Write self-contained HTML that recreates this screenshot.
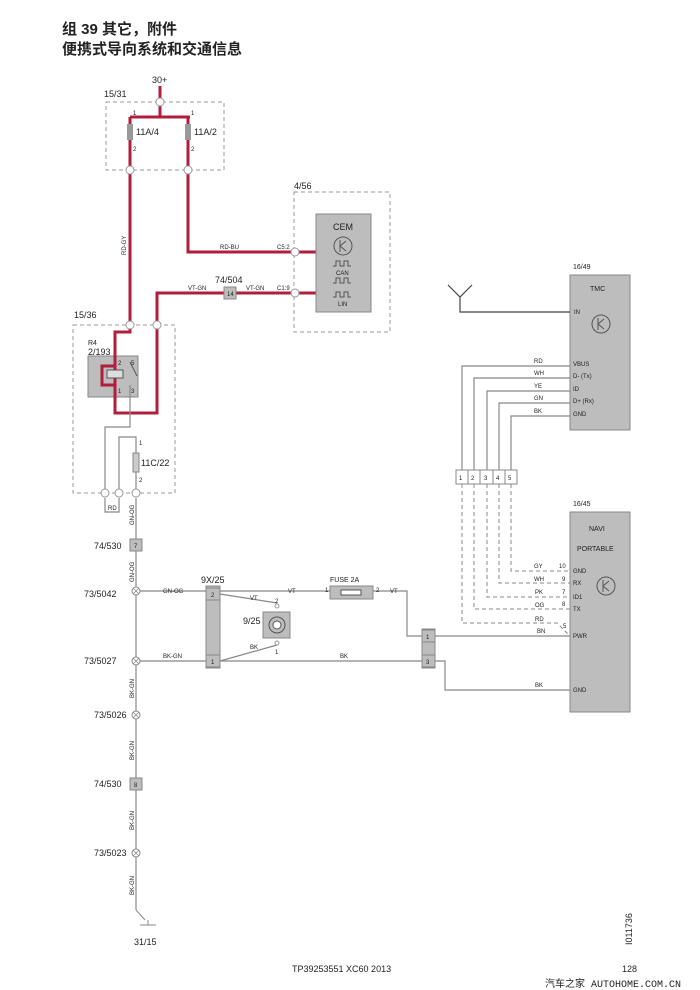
<!DOCTYPE html>
<html><head><meta charset="utf-8"><style>
body{margin:0;background:#fff}
svg{display:block}
text{font-family:"Liberation Sans",sans-serif;fill:#222}
.t{font-size:9px}.s{font-size:6px}.m{font-size:7px}
.r{stroke:#b01e3c;stroke-width:3;fill:none}
.g{stroke:#888;stroke-width:1.2;fill:none}
.d{stroke:#888;stroke-width:1;fill:none;stroke-dasharray:4 3}
.bx{stroke:#999;stroke-width:1;fill:none;stroke-dasharray:4 3}
.c{fill:#fff;stroke:#999;stroke-width:1}
.gb{fill:#bdbdbd;stroke:#888;stroke-width:1}
</style></head><body>
<svg width="700" height="990" viewBox="0 0 700 990">
<text x="62" y="34" style="font-size:15px;font-weight:bold;font-family:'Liberation Sans','Noto Sans CJK SC',sans-serif">组 39 其它，附件</text>
<text x="62" y="54" style="font-size:15px;font-weight:bold;font-family:'Liberation Sans','Noto Sans CJK SC',sans-serif">便携式导向系统和交通信息</text>

<text x="152" y="83" class="t">30+</text>
<text x="104" y="97" class="t">15/31</text>
<rect x="106" y="102" width="118" height="68" class="bx"/>
<path class="r" d="M160 86V117M130 117H190M130 117V325M188 117V252H318M157 325V293H318"/>
<rect x="127" y="124" width="6" height="16" fill="#999"/>
<rect x="185" y="124" width="6" height="16" fill="#999"/>
<text x="136" y="135" class="t">11A/4</text><text x="194" y="135" class="t">11A/2</text>
<text x="133" y="115" class="s">1</text><text x="191" y="115" class="s">1</text>
<text x="133" y="151" class="s">2</text><text x="191" y="151" class="s">2</text>
<circle cx="160" cy="102" r="4" class="c"/><circle cx="130" cy="170" r="4" class="c"/><circle cx="188" cy="170" r="4" class="c"/>
<text x="126" y="255" class="s" transform="rotate(-90 126 255)">RD-GY</text>
<text x="220" y="249" class="s">RD-BU</text>
<text x="277" y="249" class="s">C5:2</text>
<text x="188" y="290" class="s">VT-GN</text><text x="246" y="290" class="s">VT-GN</text><text x="277" y="290" class="s">C1:9</text>
<text x="215" y="283" class="t">74/504</text>
<rect x="224" y="287" width="12" height="12" class="gb"/><text x="227" y="296" class="s">14</text>

<text x="294" y="189" class="t">4/56</text>
<rect x="294" y="192" width="96" height="140" class="bx"/>
<rect x="316" y="214" width="55" height="98" class="gb"/>
<text x="333" y="230" class="t">CEM</text>
<circle cx="343" cy="246" r="9" fill="none" stroke="#555"/>
<path d="M340 240V252M340 246L346 241M340 246L346 251" stroke="#555" fill="none"/>
<path d="M333 266h3v-5h4v5h4v-5h4v5h3" stroke="#555" fill="none"/><text x="336" y="275" class="s">CAN</text>
<path d="M333 283h3v-5h4v5h4v-5h4v5h3" stroke="#555" fill="none"/>
<path d="M333 297h3v-5h4v5h4v-5h4v5h3" stroke="#555" fill="none"/><text x="338" y="306" class="s">LIN</text>
<circle cx="295" cy="252" r="4" class="c"/><circle cx="295" cy="293" r="4" class="c"/>

<text x="74" y="318" class="t">15/36</text>
<rect x="73" y="325" width="102" height="168" class="bx"/>
<text x="88" y="345" class="m">R4</text><text x="88" y="355" class="t">2/193</text>
<rect x="88" y="356" width="50" height="41" class="gb"/>
<path class="r" d="M130 325V332H115V413H157V325M115 366H102V385H115"/>
<rect x="107" y="370" width="16" height="8" fill="#ddd" stroke="#555"/>
<path d="M130 362L137 376" stroke="#555"/>
<text x="118" y="365" class="s">2</text><text x="131" y="365" class="s">5</text><text x="118" y="393" class="s">1</text><text x="131" y="393" class="s">3</text>
<circle cx="130" cy="325" r="4" class="c"/><circle cx="157" cy="325" r="4" class="c"/>
<path class="g" d="M130 385V427H105V493M119 493V437H136V453M136 472V493M105 498V512H119V498M136 498V910"/>
<rect x="133" y="453" width="6" height="19" fill="#ccc" stroke="#888"/>
<text x="141" y="466" class="t">11C/22</text><text x="139" y="445" class="s">1</text><text x="139" y="482" class="s">2</text>
<circle cx="105" cy="493" r="4" class="c"/><circle cx="119" cy="493" r="4" class="c"/><circle cx="136" cy="493" r="4" class="c"/>
<text x="108" y="510" class="s">RD</text>
<text x="134" y="525" class="s" transform="rotate(-90 134 525)">GN-OG</text>
<text x="94" y="549" class="t">74/530</text>
<rect x="130" y="539" width="12" height="12" class="gb"/><text x="134" y="548" class="s">7</text>
<text x="134" y="582" class="s" transform="rotate(-90 134 582)">GN-OG</text>
<text x="84" y="597" class="t">73/5042</text>
<text x="84" y="664" class="t">73/5027</text>
<text x="94" y="718" class="t">73/5026</text>
<text x="94" y="787" class="t">74/530</text>
<text x="94" y="856" class="t">73/5023</text>
<rect x="130" y="778" width="12" height="12" class="gb"/><text x="134" y="787" class="s">8</text>
<text x="134" y="698" class="s" transform="rotate(-90 134 698)">BK-GN</text>
<text x="134" y="760" class="s" transform="rotate(-90 134 760)">BK-GN</text>
<text x="134" y="830" class="s" transform="rotate(-90 134 830)">BK-GN</text>
<text x="134" y="895" class="s" transform="rotate(-90 134 895)">BK-GN</text>
<g fill="#fff" stroke="#888"><circle cx="136" cy="591" r="4"/><circle cx="136" cy="661" r="4"/><circle cx="136" cy="715" r="4"/><circle cx="136" cy="853" r="4"/></g>
<g stroke="#888" stroke-width="0.8"><path d="M133 588L139 594M139 588L133 594M133 658L139 664M139 658L133 664M133 712L139 718M139 712L133 718M133 850L139 856M139 850L133 856"/></g>
<path d="M136 910L145 920M140 925H156M148 920V925" stroke="#888" fill="none"/>
<text x="134" y="945" class="t">31/15</text>

<path class="g" d="M140 591H206M220 591H330M373 591H407V636H422M140 661H206M220 661H422M220 594L277 603M220 661L277 645M435 636H570M435 661H445V690H570"/>
<text x="201" y="583" class="t">9X/25</text>
<rect x="206" y="586" width="14" height="82" class="gb"/>
<rect x="206" y="588" width="14" height="12" class="gb"/><text x="211" y="597" class="s">2</text>
<rect x="206" y="655" width="14" height="12" class="gb"/><text x="211" y="664" class="s">1</text>
<text x="163" y="593" class="s">GN-OG</text><text x="163" y="658" class="s">BK-GN</text>
<text x="288" y="593" class="s">VT</text><text x="250" y="600" class="s">VT</text><text x="250" y="649" class="s">BK</text><text x="340" y="658" class="s">BK</text>
<text x="243" y="624" class="t">9/25</text>
<rect x="263" y="612" width="27" height="26" class="gb"/>
<circle cx="277" cy="625" r="8" fill="none" stroke="#555"/><circle cx="277" cy="625" r="4" fill="#fff" stroke="#555"/>
<circle cx="277" cy="606" r="2" class="c"/><circle cx="277" cy="643" r="2" class="c"/>
<text x="275" y="603" class="s">2</text><text x="275" y="654" class="s">1</text>
<text x="330" y="582" class="m">FUSE 2A</text>
<rect x="330" y="586" width="43" height="13" class="gb"/><rect x="341" y="590" width="20" height="5" fill="#fff" stroke="#555"/>
<text x="325" y="592" class="s">1</text><text x="376" y="592" class="s">2</text><text x="390" y="593" class="s">VT</text>
<rect x="422" y="629" width="13" height="39" class="gb"/>
<rect x="422" y="630" width="13" height="12" class="gb"/><text x="426" y="639" class="s">1</text>
<rect x="422" y="655" width="13" height="12" class="gb"/><text x="426" y="664" class="s">3</text>
<text x="537" y="633" class="s">BN</text><text x="535" y="687" class="s">BK</text>

<text x="573" y="269" class="m">16/49</text>
<rect x="570" y="275" width="60" height="155" class="gb"/>
<text x="590" y="291" class="m">TMC</text>
<circle cx="601" cy="324" r="9" fill="none" stroke="#555"/>
<path d="M598 318V330M598 324L604 319M598 324L604 329" stroke="#555" fill="none"/>
<path d="M448 285L460 297L472 285M460 297V312H570" stroke="#444" stroke-width="1.2" fill="none"/>
<text x="574" y="314" class="s">IN</text>
<path class="g" d="M570 366H462V470M570 378H474V470M570 391H487V470M570 403H499V470M570 416H511V470"/>
<text x="534" y="363" class="s">RD</text><text x="534" y="375" class="s">WH</text><text x="534" y="388" class="s">YE</text><text x="534" y="400" class="s">GN</text><text x="534" y="413" class="s">BK</text>
<text x="573" y="366" class="s">VBUS</text><text x="573" y="378" class="s">D- (Tx)</text><text x="573" y="391" class="s">ID</text><text x="573" y="403" class="s">D+ (Rx)</text><text x="573" y="416" class="s">GND</text>
<g fill="#fff" stroke="#888"><rect x="456" y="470" width="12" height="14"/><rect x="468" y="470" width="12" height="14"/><rect x="480" y="470" width="13" height="14"/><rect x="493" y="470" width="12" height="14"/><rect x="505" y="470" width="12" height="14"/></g>
<text x="459" y="480" class="s">1</text><text x="471" y="480" class="s">2</text><text x="484" y="480" class="s">3</text><text x="496" y="480" class="s">4</text><text x="508" y="480" class="s">5</text>
<path class="d" d="M511 484V571H570M499 484V583H570M487 484V597H570M474 484V609H570M462 484V623H557L570 636"/>
<text x="534" y="568" class="s">GY</text><text x="534" y="581" class="s">WH</text><text x="535" y="594" class="s">PK</text><text x="535" y="607" class="s">OG</text><text x="535" y="621" class="s">RD</text>
<text x="559" y="568" class="s">10</text><text x="562" y="581" class="s">9</text><text x="562" y="594" class="s">7</text><text x="562" y="606" class="s">8</text><text x="563" y="628" class="s">5</text>
<text x="573" y="506" class="m">16/45</text>
<rect x="570" y="512" width="60" height="200" class="gb"/>
<text x="589" y="531" class="m">NAVI</text><text x="577" y="551" class="m">PORTABLE</text>
<circle cx="606" cy="586" r="9" fill="none" stroke="#555"/>
<path d="M603 580V592M603 586L609 581M603 586L609 591" stroke="#555" fill="none"/>
<text x="573" y="573" class="s">GND</text><text x="573" y="585" class="s">RX</text><text x="573" y="599" class="s">ID1</text><text x="573" y="611" class="s">TX</text><text x="573" y="638" class="s">PWR</text><text x="573" y="692" class="s">GND</text>

<text x="632" y="945" class="t" transform="rotate(-90 632 945)">I011736</text>
<text x="292" y="972" class="t">TP39253551 XC60 2013</text>
<text x="622" y="972" class="t">128</text>
<text x="545" y="987" style="font-size:10px;font-family:'Liberation Mono','Noto Sans CJK SC',monospace">汽车之家 AUTOHOME.COM.CN</text>
</svg>
</body></html>
